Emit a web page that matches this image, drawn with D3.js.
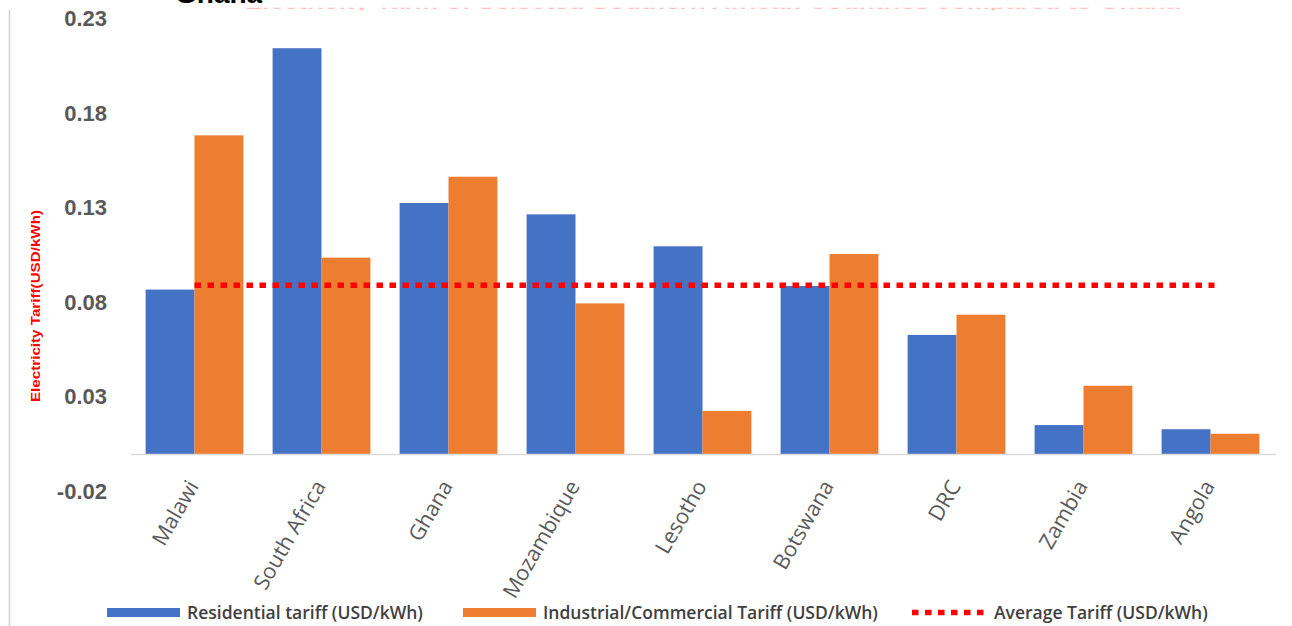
<!DOCTYPE html>
<html>
<head>
<meta charset="utf-8">
<script src="https://cdn.jsdelivr.net/npm/d3@7"></script>
<style>
  html, body { margin: 0; padding: 0; background: #fff; }
  svg { display: block; }
</style>
</head>
<body>
<svg id="chart" width="1292" height="626"></svg>
<script>
// Electricity tariffs of selected Southern African countries (USD/kWh)
const countries = ["Malawi", "South Africa", "Ghana", "Mozambique", "Lesotho", "Botswana", "DRC", "Zambia", "Angola"];
const residential = [0.087, 0.2147, 0.1328, 0.1268, 0.1099, 0.0889, 0.063, 0.0153, 0.0131];
const industrial = [0.1686, 0.1039, 0.1467, 0.0797, 0.0228, 0.1058, 0.0737, 0.0361, 0.0107];
const averageTariff = 0.0893;
const yTicks = [-0.02, 0.03, 0.08, 0.13, 0.18, 0.23];
const seriesNames = ["Residential tariff (USD/kWh)", "Industrial/Commercial Tariff (USD/kWh)", "Average Tariff (USD/kWh)"];

const BLUE = "#4472C4", ORANGE = "#ED7D31", RED = "#FF0000";

const svg = d3.select("#chart");

// partly hidden heading above the plot
const clip = svg.append("defs").append("clipPath").attr("id", "headClip");
clip.append("rect").attr("x", 0).attr("y", 7.8).attr("width", 1292).attr("height", 2.5);
svg.append("text")
  .attr("x", 245).attr("y", 8.8)
  .attr("clip-path", "url(#headClip)")
  .attr("fill", RED).attr("opacity", 0.25)
  .attr("textLength", 935)
  .attr("lengthAdjust", "spacingAndGlyphs")
  .style("font-family", "Liberation Sans, Arial, sans-serif")
  .style("font-size", "19px").style("font-weight", "bold")
  .text("Electricity Tariff of Selected Southern African Countries compared to Ghana");
svg.append("text")
  .attr("x", 175).attr("y", 3)
  .attr("fill", "#000")
  .style("font-family", "Liberation Sans, Arial, sans-serif")
  .style("font-size", "28px").style("font-weight", "bold")
  .text("Ghana");

// frame edge on the left
svg.append("line")
  .attr("x1", 9.5).attr("x2", 9.5).attr("y1", 10).attr("y2", 626)
  .attr("stroke", "#d0d0d0").attr("stroke-width", 1.5);

const x0 = d3.scaleBand().domain(countries).range([131, 1274]).paddingInner(0.23).paddingOuter(0.115);
const x1 = d3.scaleBand().domain(["res", "ind"]).range([0, x0.bandwidth()]);
const y = d3.scaleLinear().domain([-0.02, 0.23]).range([491.8, 19.3]);

// value axis labels (plain hyphen for the negative tick)
const fmt = d3.formatLocale({ decimal: ".", thousands: ",", grouping: [3], currency: ["$", ""], minus: "-" }).format(".2f");
const yAxis = d3.axisLeft(y).tickValues(yTicks).tickFormat(fmt).tickSize(0).tickPadding(0);
const gy = svg.append("g").attr("transform", "translate(107,0)").call(yAxis);
gy.select(".domain").remove();
gy.selectAll("text")
  .attr("fill", "#595959")
  .attr("dy", "0.3em")
  .style("font-family", "Liberation Sans, Arial, sans-serif")
  .style("font-size", "22px").style("font-weight", "bold");

// value axis title
svg.append("text")
  .attr("transform", "translate(40,306) rotate(-90)")
  .attr("text-anchor", "middle")
  .attr("fill", RED)
  .attr("textLength", 192)
  .attr("lengthAdjust", "spacingAndGlyphs")
  .style("font-family", "Liberation Sans, Arial, sans-serif")
  .style("font-size", "13.5px").style("font-weight", "bold")
  .text("Electricity Tariff(USD/kWh)");

// bars
const groups = svg.append("g").selectAll("g").data(countries).join("g")
  .attr("transform", d => "translate(" + x0(d) + ",0)");
groups.append("rect")
  .attr("x", x1("res")).attr("width", x1.bandwidth())
  .attr("y", (d, i) => y(residential[i]))
  .attr("height", (d, i) => y(0) - y(residential[i]))
  .attr("fill", BLUE);
groups.append("rect")
  .attr("x", x1("ind")).attr("width", x1.bandwidth())
  .attr("y", (d, i) => y(industrial[i]))
  .attr("height", (d, i) => y(0) - y(industrial[i]))
  .attr("fill", ORANGE);

// category axis
svg.append("line")
  .attr("x1", 131).attr("x2", 1276).attr("y1", y(0) + 0.5).attr("y2", y(0) + 0.5)
  .attr("stroke", "#d9d9d9").attr("stroke-width", 1.5);
const xAxis = d3.axisBottom(x0).tickSize(0).tickPadding(0);
const gx = svg.append("g").attr("transform", "translate(0," + y(0) + ")").call(xAxis);
gx.select(".domain").remove();
gx.selectAll("text")
  .attr("fill", "#595959")
  .attr("text-anchor", "end")
  .attr("dy", 0)
  .attr("transform", "translate(5,32) rotate(-60)")
  .style("font-family", "Open Sans, sans-serif")
  .style("font-size", "21.5px");

// average tariff line across the groups
svg.append("line")
  .attr("x1", x0(countries[0]) + x0.bandwidth() / 2)
  .attr("x2", x0(countries[countries.length - 1]) + x0.bandwidth() / 2 + 4)
  .attr("y1", y(averageTariff)).attr("y2", y(averageTariff))
  .attr("stroke", RED).attr("stroke-width", 5.5)
  .attr("stroke-dasharray", "6.5,6.5");

// legend
const legend = svg.append("g");
const legendItems = [
  { name: seriesNames[0], x: 107, kind: "bar", color: BLUE },
  { name: seriesNames[1], x: 463, kind: "bar", color: ORANGE },
  { name: seriesNames[2], x: 912, kind: "line", color: RED }
];
legendItems.forEach(it => {
  if (it.kind === "bar") {
    legend.append("rect").attr("x", it.x).attr("y", 608).attr("width", 73).attr("height", 9).attr("fill", it.color);
  } else {
    legend.append("line").attr("x1", it.x).attr("x2", it.x + 77).attr("y1", 612.5).attr("y2", 612.5)
      .attr("stroke", it.color).attr("stroke-width", 5.5).attr("stroke-dasharray", "6.5,6.5");
  }
  legend.append("text")
    .attr("x", it.x + (it.kind === "bar" ? 80 : 82)).attr("y", 619)
    .attr("fill", "#404040")
    .style("font-family", "Open Sans, sans-serif")
    .style("font-size", "17.5px").style("font-weight", "600")
    .text(it.name);
});
</script>
</body>
</html>
